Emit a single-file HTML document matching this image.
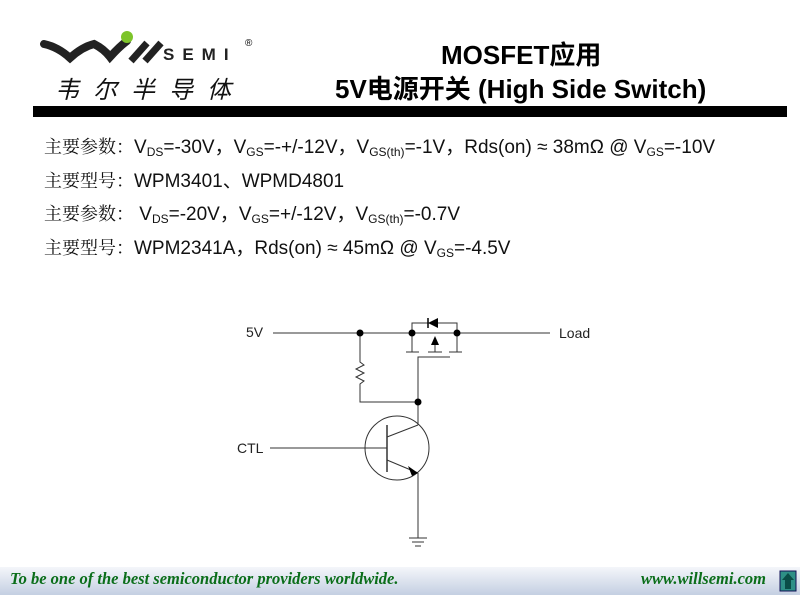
<!DOCTYPE html>
<html><head><meta charset="utf-8"><style>
body{margin:0;width:800px;height:595px;background:#fff;position:relative;overflow:hidden;font-family:"Liberation Sans","Noto Sans CJK SC",sans-serif}
.t{position:absolute;white-space:nowrap}
.title{font-weight:bold;font-size:26px;color:#000}
.ln{font-size:19px;color:#111;left:44px}
.cn{font-family:"Noto Serif CJK SC","Noto Sans CJK SC",serif;font-size:18px}
sub{font-size:12px;vertical-align:-3px}
</style></head><body>
<svg style="position:absolute;left:0;top:0" width="800" height="595">
<path d="M44 44 Q58 47 70 58 Q82 47 94 44 Q104 49 110 57 Q120 46 127 41" fill="none" stroke="#222" stroke-width="8" stroke-linecap="round"/>
<line x1="131" y1="61" x2="147" y2="43" stroke="#222" stroke-width="7"/>
<line x1="145" y1="61" x2="161" y2="43" stroke="#222" stroke-width="7"/>
<circle cx="127" cy="37" r="6" fill="#7dc42a"/>
<rect x="33" y="106" width="754" height="11" fill="#000"/>
<defs><linearGradient id="g" x1="0" y1="0" x2="0" y2="1"><stop offset="0" stop-color="#f4f6fa"/><stop offset="1" stop-color="#c4cfe2"/></linearGradient></defs>
<rect x="0" y="567" width="800" height="28" fill="url(#g)"/>
<rect x="780" y="571" width="16" height="20" fill="#2e8f86" stroke="#115" stroke-width="1"/>
<path d="M782 580 L788 573 L794 580 Z M785 580 h6 v9 h-6z" fill="#0a4d47"/>
<g stroke="#333" stroke-width="1" fill="none">
<line x1="273" y1="333" x2="550" y2="333"/>
<path d="M412 333 V323 H457 V333"/>
<path d="M412 333 V352 M457 333 V352"/>
<path d="M406 352 H419 M428 352 H442 M449 352 H462"/>
<line x1="435" y1="352" x2="435" y2="340"/>
<path d="M418 402 V357 H450"/>
<path d="M360 333 V362 L364 365 L356 369 L364 373 L356 377 L364 381 L360 384 V402 H418"/>
<line x1="418" y1="402" x2="418" y2="425"/>
<circle cx="397" cy="448" r="32"/>
<line x1="387" y1="425" x2="387" y2="472" stroke-width="1.5"/>
<line x1="270" y1="448" x2="387" y2="448"/>
<line x1="387" y1="437" x2="418" y2="425"/>
<line x1="387" y1="460" x2="418" y2="473"/>
<line x1="418" y1="473" x2="418" y2="538"/>
<path d="M409 538 H427 M412 542 H424 M415 546 H421"/>
</g>
<path d="M428 323 L438 318 L438 328 Z" fill="#000"/><line x1="428" y1="318" x2="428" y2="328" stroke="#000" stroke-width="1.5"/>
<path d="M435 336 L431 345 L439 345 Z" fill="#000"/>
<path d="M418 473 L408 466 L412 476 Z" fill="#000"/>
<g fill="#000"><circle cx="360" cy="333" r="3.5"/><circle cx="412" cy="333" r="3.5"/><circle cx="457" cy="333" r="3.5"/><circle cx="418" cy="402" r="3.5"/></g>
</svg>
<div class="t" style="left:163px;top:45px;font-size:17px;letter-spacing:8px;font-weight:bold;color:#222">SEMI</div>
<div class="t" style="left:245px;top:38px;font-size:10px">®</div>
<div class="t" style="left:55px;top:70px;font-size:24px;font-style:italic;letter-spacing:14px;font-family:'Noto Sans CJK SC',sans-serif;color:#111">韦尔半导体</div>
<div class="t title" style="left:441px;top:35px">MOSFET应用</div>
<div class="t title" style="left:335px;top:69px">5V电源开关 (High Side Switch)</div>
<div class="t ln" style="top:132px"><span class="cn">主要参数：</span>V<sub>DS</sub>=-30V，V<sub>GS</sub>=-+/-12V，V<sub>GS(th)</sub>=-1V，Rds(on) ≈ 38mΩ @ V<sub>GS</sub>=-10V</div>
<div class="t ln" style="top:166px"><span class="cn">主要型号：</span>WPM3401、WPMD4801</div>
<div class="t ln" style="top:199px"><span class="cn">主要参数：</span> V<sub>DS</sub>=-20V，V<sub>GS</sub>=+/-12V，V<sub>GS(th)</sub>=-0.7V</div>
<div class="t ln" style="top:233px"><span class="cn">主要型号：</span>WPM2341A，Rds(on) ≈ 45mΩ @ V<sub>GS</sub>=-4.5V</div>
<div class="t" style="left:246px;top:324px;font-size:14px;color:#222">5V</div>
<div class="t" style="left:559px;top:325px;font-size:14px;color:#222">Load</div>
<div class="t" style="left:237px;top:440px;font-size:14px;color:#222">CTL</div>
<div class="t" style="left:10px;top:569px;font-family:'Liberation Serif',serif;font-style:italic;font-weight:bold;font-size:16.5px;color:#0b6e1a">To be one of the best semiconductor providers worldwide.</div>
<div class="t" style="left:641px;top:569px;font-family:'Liberation Serif',serif;font-style:italic;font-weight:bold;font-size:16.5px;color:#0b6e1a">www.willsemi.com</div>
</body></html>
